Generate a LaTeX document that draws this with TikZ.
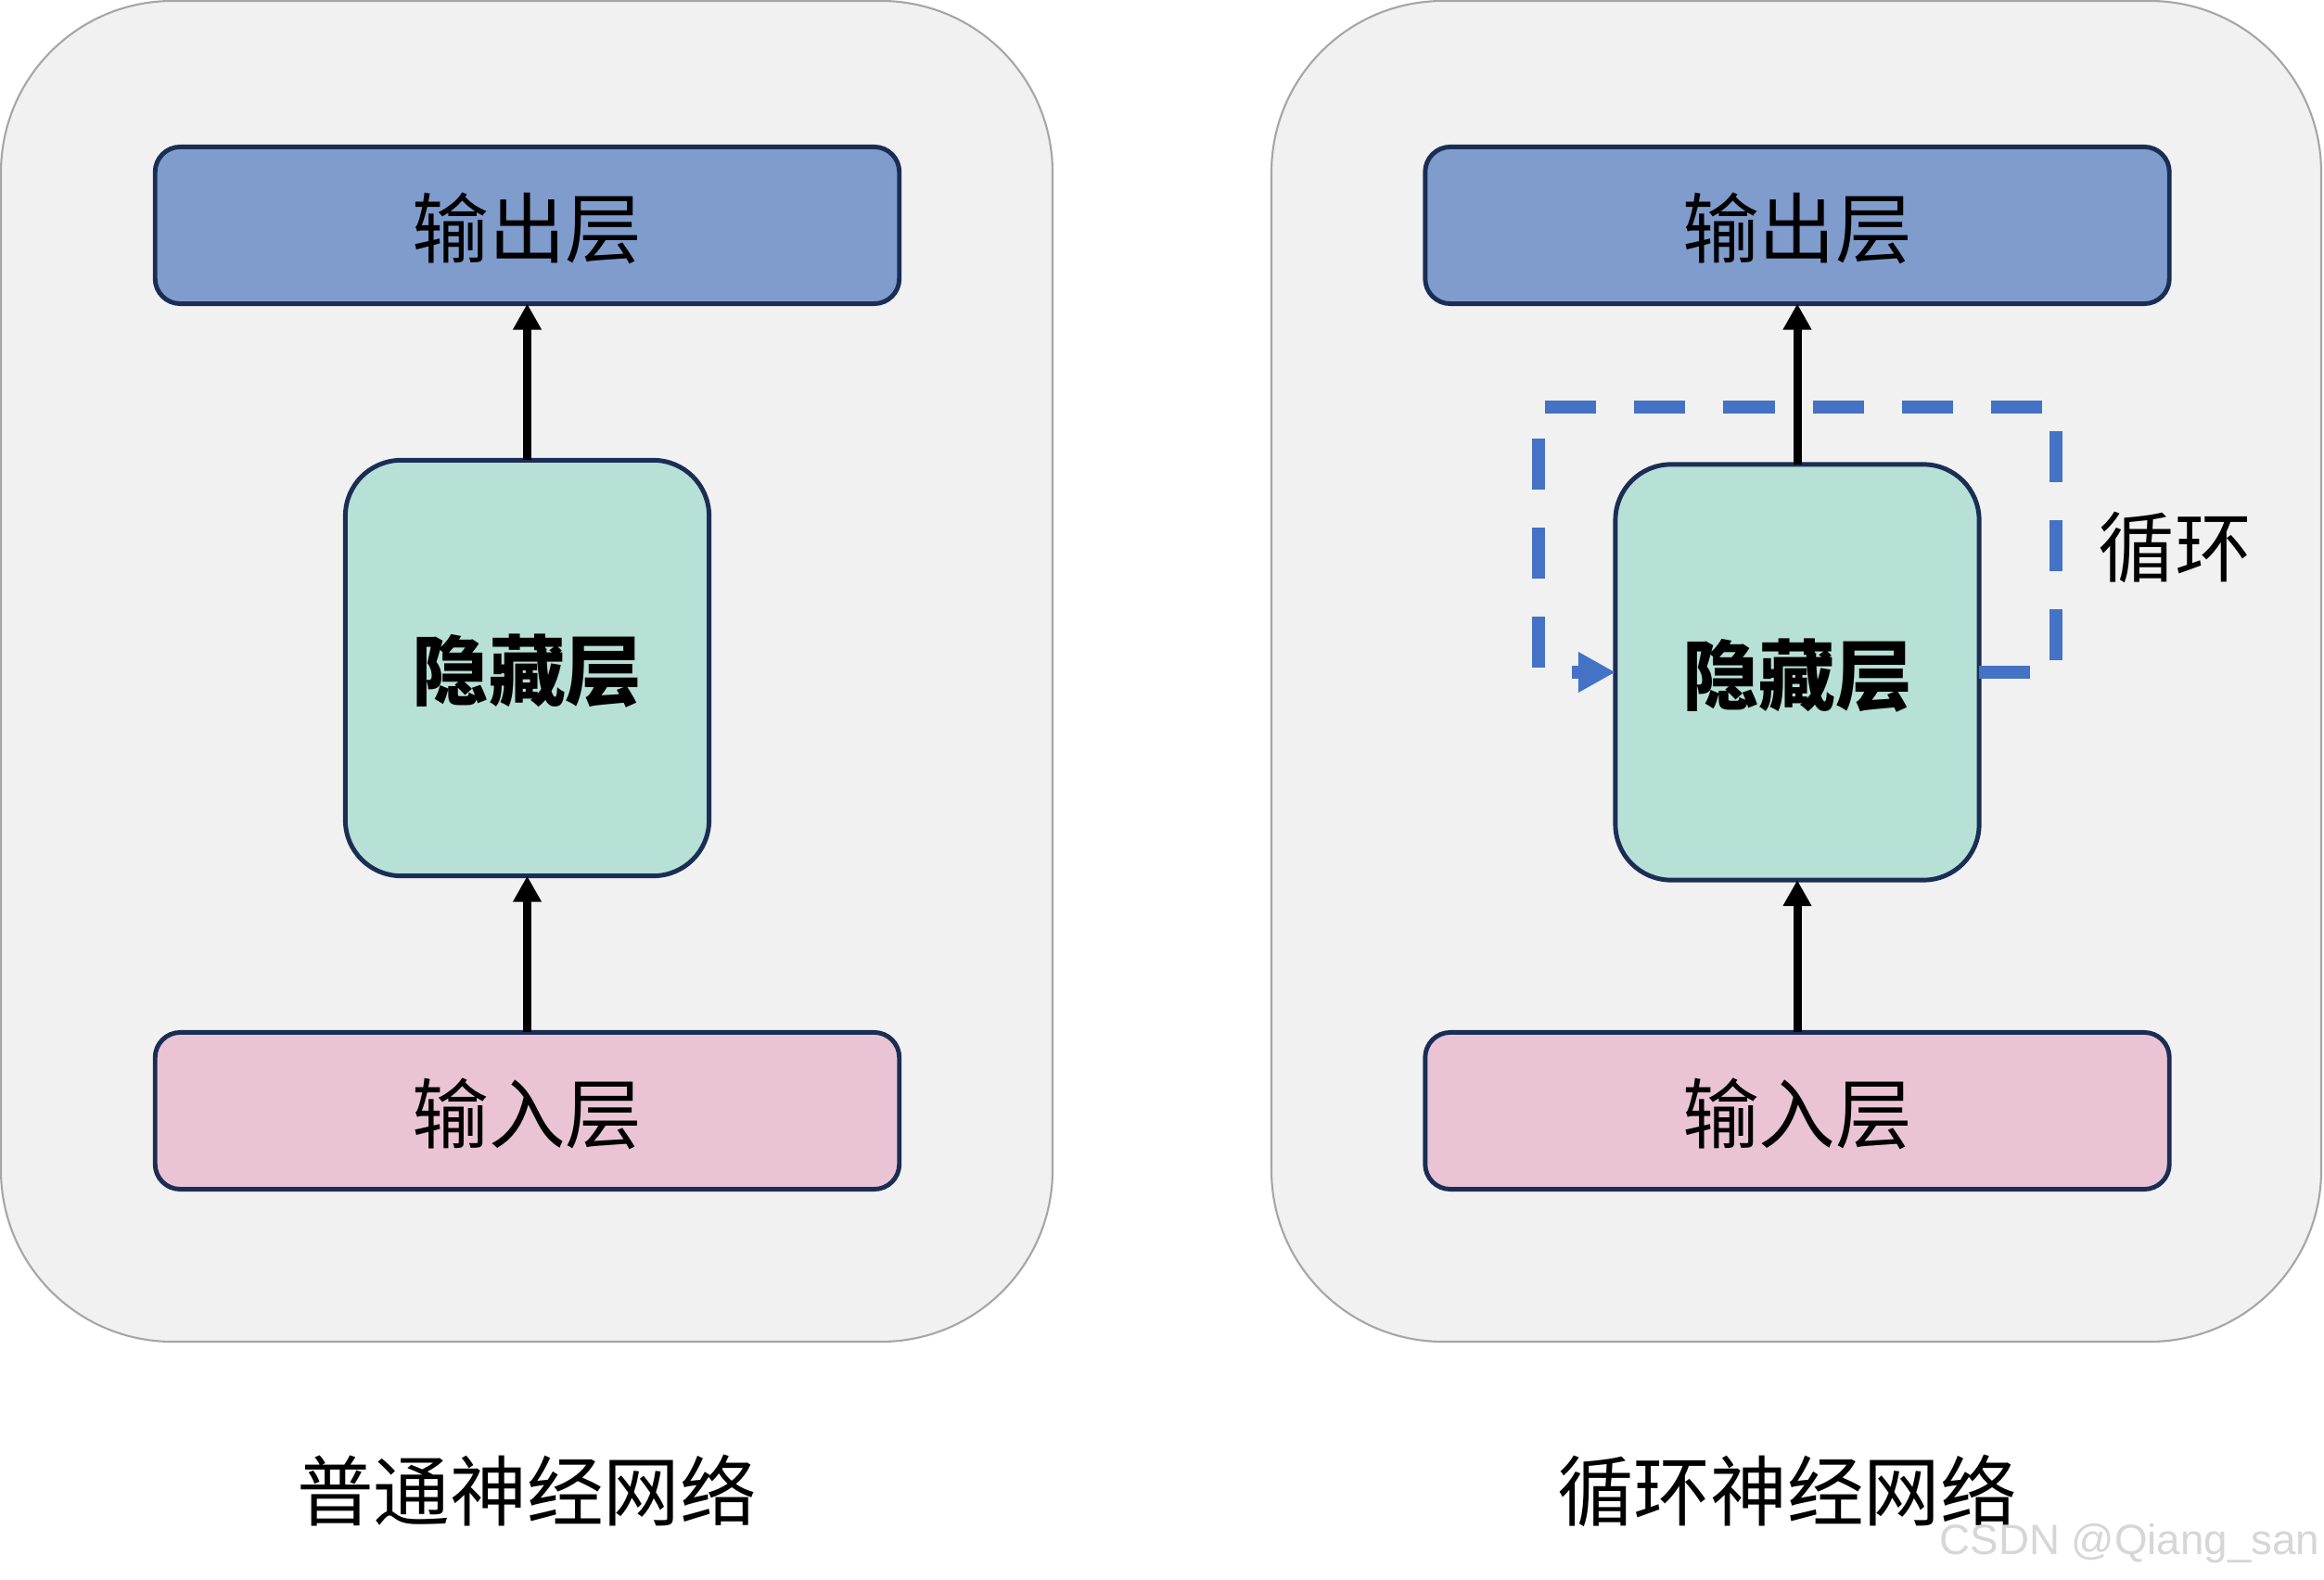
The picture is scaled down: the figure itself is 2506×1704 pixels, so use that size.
\documentclass[tikz,border=0pt]{standalone}
\usepackage{fontspec}
\newfontfamily\cjk{Noto Sans CJK SC}
\newfontfamily\wmfont{Liberation Sans}
\usetikzlibrary{arrows.meta}
\definecolor{panelfill}{HTML}{F1F1F1}
\definecolor{panelline}{HTML}{A6A6A6}
\definecolor{outfill}{HTML}{7F9CCD}
\definecolor{hidfill}{HTML}{B7E0D6}
\definecolor{infill}{HTML}{EAC4D5}
\definecolor{navy}{HTML}{1A2E55}
\definecolor{loopblue}{HTML}{4472C4}
\definecolor{wmgray}{HTML}{D6D6D6}
\begin{document}
\begin{tikzpicture}[x=0.01cm,y=-0.01cm,
 panel/.style={draw=panelline,fill=panelfill,line width=0.6pt,rounded corners=1.85cm},
 layerbox/.style={draw=navy,line width=1.4pt,inner sep=0pt,outer sep=0pt,font=\cjk\fontsize{23.5}{28}\selectfont,text height=22pt,text depth=2.4pt},
 widebox/.style={layerbox,minimum width=8.02cm,minimum height=1.69cm,rounded corners=0.27cm},
 hidbox/.style={layerbox,fill=hidfill,minimum width=3.92cm,minimum height=4.48cm,rounded corners=0.6cm,font=\cjk\bfseries\fontsize{23.5}{28}\selectfont},
 flow/.style={-{Triangle[length=0.28cm,width=0.29cm]},line width=0.09cm,black},
 loop/.style={draw=loopblue,line width=0.14cm,dash pattern=on 0.55cm off 0.41cm,-{Triangle[length=0.4cm,width=0.41cm,fill=loopblue]}},
 caption/.style={font=\cjk\fontsize{23.5}{28}\selectfont,inner sep=0pt}
]
\useasboundingbox (0,0) rectangle (2506,1704);
% panels
\path[panel] (1,1) rectangle (1135,1447);
\path[panel] (1371,1) rectangle (2503,1447);
% left network
\node[widebox,fill=outfill] (outL) at (568.5,243) {输出层};
\node[hidbox] (hidL) at (568.5,720.5) {隐藏层};
\node[widebox,fill=infill] (inL) at (568.5,1198) {输入层};
\draw[flow] (inL.north) -- (hidL.south);
\draw[flow] (hidL.north) -- (outL.south);
% right network
\node[widebox,fill=outfill] (outR) at (1938,243) {输出层};
\node[hidbox] (hidR) at (1938,725) {隐藏层};
\node[widebox,fill=infill] (inR) at (1938,1198) {输入层};
\draw[flow] (inR.north) -- (hidR.south);
\draw[flow] (hidR.north) -- (outR.south);
% recurrent loop
\coordinate (loopTR) at (2217,439);
\coordinate (loopTL) at (1659,439);
\draw[loop] (hidR.east) -| (loopTR) -- (loopTL) |- (hidR.west);
\node[caption] (loopLabel) at (2345,590) {循环};
% captions
\node[caption] (capL) at (568,1608) {普通神经网络};
\node[caption] (capR) at (1927,1608) {循环神经网络};
\node[font=\wmfont\fontsize{13}{15}\selectfont,text=wmgray,anchor=east,inner sep=0pt] (wm) at (2502,1665) {CSDN @Qiang\_san};
\end{tikzpicture}
\end{document}
